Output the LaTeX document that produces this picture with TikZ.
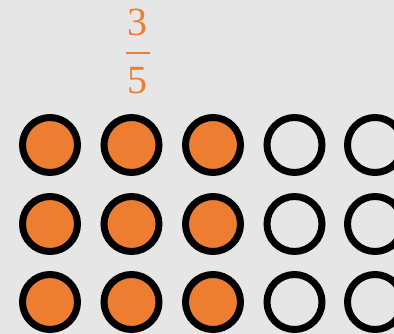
\documentclass[tikz,border=0pt]{standalone}
\usepackage{fontspec}
\setmainfont{Liberation Serif}
\definecolor{bg}{HTML}{E6E6E6}
\definecolor{org}{HTML}{ED7D31}
\tikzset{
  dot/.style={circle, draw=black, line width=7pt, minimum size=55pt, inner sep=0pt},
  full/.style={dot, fill=org},
  empty/.style={dot, fill=none},
  digit/.style={text=org, font=\fontsize{40}{40}\selectfont, inner sep=0pt}
}
\begin{document}
\begin{tikzpicture}[x=1pt,y=-1pt]
\fill[bg] (0,0) rectangle (394,334);
\useasboundingbox (0,0) rectangle (394,334);
\node[digit] (num) at (137,22) {3};
\node[digit] (den) at (137,81) {5};
\coordinate (barl) at (126,53);
\coordinate (barr) at (150,53);
\draw[org, line width=2.5pt] (barl) -- (barr);
\foreach \r/\y in {1/145,2/224,3/302}{
  \foreach \c/\x in {1/50,2/131.5,3/213}{
    \node[full] (c\r\c) at (\x,\y) {};
  }
  \foreach \c/\x in {4/294.5,5/375}{
    \node[empty] (c\r\c) at (\x,\y) {};
  }
}
\end{tikzpicture}
\end{document}
